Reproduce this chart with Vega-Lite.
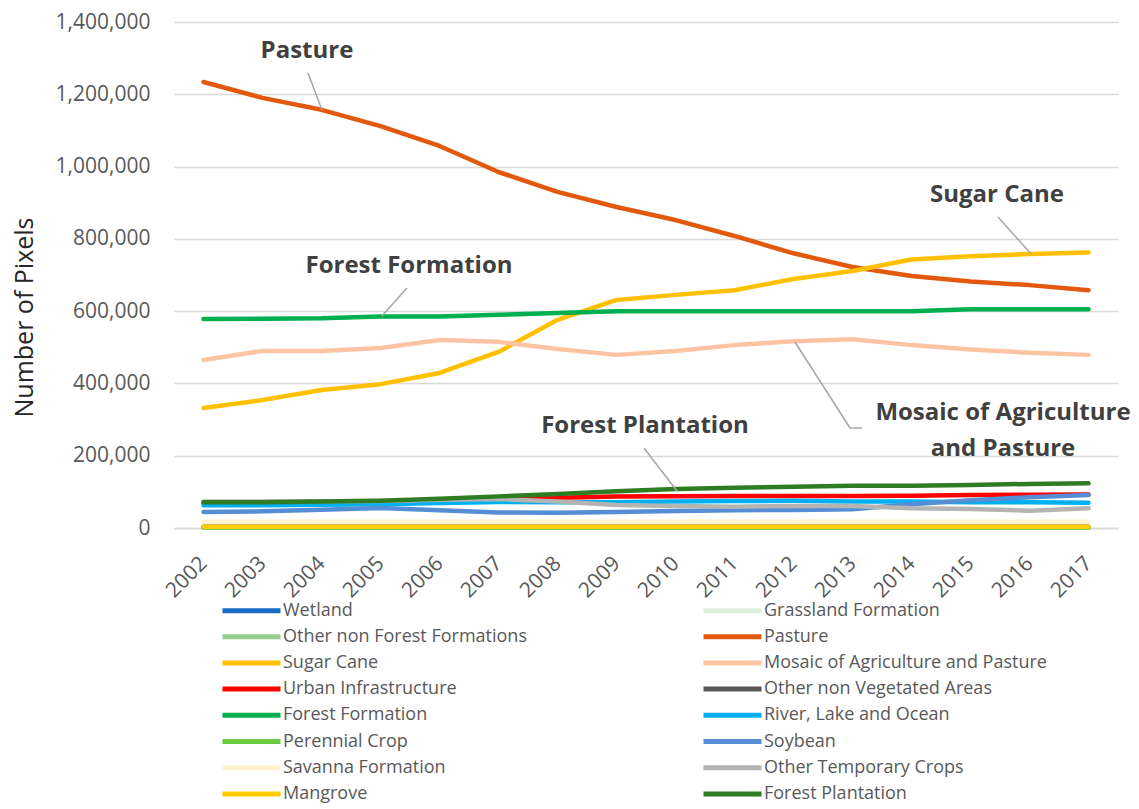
{
  "$schema": "https://vega.github.io/schema/vega-lite/v6.json",
  "width": 944,
  "height": 506,
  "autosize": {"type": "none"},
  "padding": {"left": 174, "top": 22, "right": 21, "bottom": 281},
  "background": "white",
  "config": {
    "font": "Open Sans",
    "view": {"stroke": null}
  },
  "datasets": {
    "series": [
      {"series":"Wetland","year":2002,"pixels":1500},{"series":"Wetland","year":2003,"pixels":1500},{"series":"Wetland","year":2004,"pixels":1500},{"series":"Wetland","year":2005,"pixels":1500},{"series":"Wetland","year":2006,"pixels":1500},{"series":"Wetland","year":2007,"pixels":1500},{"series":"Wetland","year":2008,"pixels":1500},{"series":"Wetland","year":2009,"pixels":1500},{"series":"Wetland","year":2010,"pixels":1500},{"series":"Wetland","year":2011,"pixels":1500},{"series":"Wetland","year":2012,"pixels":1500},{"series":"Wetland","year":2013,"pixels":1500},{"series":"Wetland","year":2014,"pixels":1500},{"series":"Wetland","year":2015,"pixels":1500},{"series":"Wetland","year":2016,"pixels":1500},{"series":"Wetland","year":2017,"pixels":1500},
      {"series":"Grassland Formation","year":2002,"pixels":2500},{"series":"Grassland Formation","year":2003,"pixels":2500},{"series":"Grassland Formation","year":2004,"pixels":2500},{"series":"Grassland Formation","year":2005,"pixels":2500},{"series":"Grassland Formation","year":2006,"pixels":2500},{"series":"Grassland Formation","year":2007,"pixels":2500},{"series":"Grassland Formation","year":2008,"pixels":2500},{"series":"Grassland Formation","year":2009,"pixels":2500},{"series":"Grassland Formation","year":2010,"pixels":2500},{"series":"Grassland Formation","year":2011,"pixels":2500},{"series":"Grassland Formation","year":2012,"pixels":2500},{"series":"Grassland Formation","year":2013,"pixels":2500},{"series":"Grassland Formation","year":2014,"pixels":2500},{"series":"Grassland Formation","year":2015,"pixels":2500},{"series":"Grassland Formation","year":2016,"pixels":2500},{"series":"Grassland Formation","year":2017,"pixels":2500},
      {"series":"Other non Forest Formations","year":2002,"pixels":1000},{"series":"Other non Forest Formations","year":2003,"pixels":1000},{"series":"Other non Forest Formations","year":2004,"pixels":1000},{"series":"Other non Forest Formations","year":2005,"pixels":1000},{"series":"Other non Forest Formations","year":2006,"pixels":1000},{"series":"Other non Forest Formations","year":2007,"pixels":1000},{"series":"Other non Forest Formations","year":2008,"pixels":1000},{"series":"Other non Forest Formations","year":2009,"pixels":1000},{"series":"Other non Forest Formations","year":2010,"pixels":1000},{"series":"Other non Forest Formations","year":2011,"pixels":1000},{"series":"Other non Forest Formations","year":2012,"pixels":1000},{"series":"Other non Forest Formations","year":2013,"pixels":1000},{"series":"Other non Forest Formations","year":2014,"pixels":1000},{"series":"Other non Forest Formations","year":2015,"pixels":1000},{"series":"Other non Forest Formations","year":2016,"pixels":1000},{"series":"Other non Forest Formations","year":2017,"pixels":1000},
      {"series":"Pasture","year":2002,"pixels":1234000},{"series":"Pasture","year":2003,"pixels":1190000},{"series":"Pasture","year":2004,"pixels":1157000},{"series":"Pasture","year":2005,"pixels":1112000},{"series":"Pasture","year":2006,"pixels":1057000},{"series":"Pasture","year":2007,"pixels":985000},{"series":"Pasture","year":2008,"pixels":930000},{"series":"Pasture","year":2009,"pixels":888000},{"series":"Pasture","year":2010,"pixels":852000},{"series":"Pasture","year":2011,"pixels":808000},{"series":"Pasture","year":2012,"pixels":760000},{"series":"Pasture","year":2013,"pixels":722000},{"series":"Pasture","year":2014,"pixels":697000},{"series":"Pasture","year":2015,"pixels":682000},{"series":"Pasture","year":2016,"pixels":672000},{"series":"Pasture","year":2017,"pixels":658000},
      {"series":"Sugar Cane","year":2002,"pixels":332000},{"series":"Sugar Cane","year":2003,"pixels":354000},{"series":"Sugar Cane","year":2004,"pixels":382000},{"series":"Sugar Cane","year":2005,"pixels":398000},{"series":"Sugar Cane","year":2006,"pixels":429000},{"series":"Sugar Cane","year":2007,"pixels":487000},{"series":"Sugar Cane","year":2008,"pixels":576000},{"series":"Sugar Cane","year":2009,"pixels":631000},{"series":"Sugar Cane","year":2010,"pixels":645000},{"series":"Sugar Cane","year":2011,"pixels":658000},{"series":"Sugar Cane","year":2012,"pixels":689000},{"series":"Sugar Cane","year":2013,"pixels":711000},{"series":"Sugar Cane","year":2014,"pixels":743000},{"series":"Sugar Cane","year":2015,"pixels":752000},{"series":"Sugar Cane","year":2016,"pixels":758000},{"series":"Sugar Cane","year":2017,"pixels":762000},
      {"series":"Mosaic of Agriculture and Pasture","year":2002,"pixels":465000},{"series":"Mosaic of Agriculture and Pasture","year":2003,"pixels":490000},{"series":"Mosaic of Agriculture and Pasture","year":2004,"pixels":490000},{"series":"Mosaic of Agriculture and Pasture","year":2005,"pixels":498000},{"series":"Mosaic of Agriculture and Pasture","year":2006,"pixels":520000},{"series":"Mosaic of Agriculture and Pasture","year":2007,"pixels":515000},{"series":"Mosaic of Agriculture and Pasture","year":2008,"pixels":495000},{"series":"Mosaic of Agriculture and Pasture","year":2009,"pixels":479000},{"series":"Mosaic of Agriculture and Pasture","year":2010,"pixels":490000},{"series":"Mosaic of Agriculture and Pasture","year":2011,"pixels":506000},{"series":"Mosaic of Agriculture and Pasture","year":2012,"pixels":517000},{"series":"Mosaic of Agriculture and Pasture","year":2013,"pixels":522000},{"series":"Mosaic of Agriculture and Pasture","year":2014,"pixels":506000},{"series":"Mosaic of Agriculture and Pasture","year":2015,"pixels":494000},{"series":"Mosaic of Agriculture and Pasture","year":2016,"pixels":485000},{"series":"Mosaic of Agriculture and Pasture","year":2017,"pixels":479000},
      {"series":"Urban Infrastructure","year":2002,"pixels":70000},{"series":"Urban Infrastructure","year":2003,"pixels":71000},{"series":"Urban Infrastructure","year":2004,"pixels":72000},{"series":"Urban Infrastructure","year":2005,"pixels":74000},{"series":"Urban Infrastructure","year":2006,"pixels":77000},{"series":"Urban Infrastructure","year":2007,"pixels":80000},{"series":"Urban Infrastructure","year":2008,"pixels":84000},{"series":"Urban Infrastructure","year":2009,"pixels":87000},{"series":"Urban Infrastructure","year":2010,"pixels":88000},{"series":"Urban Infrastructure","year":2011,"pixels":88500},{"series":"Urban Infrastructure","year":2012,"pixels":88500},{"series":"Urban Infrastructure","year":2013,"pixels":88500},{"series":"Urban Infrastructure","year":2014,"pixels":89000},{"series":"Urban Infrastructure","year":2015,"pixels":91000},{"series":"Urban Infrastructure","year":2016,"pixels":92000},{"series":"Urban Infrastructure","year":2017,"pixels":93000},
      {"series":"Other non Vegetated Areas","year":2002,"pixels":3500},{"series":"Other non Vegetated Areas","year":2003,"pixels":3500},{"series":"Other non Vegetated Areas","year":2004,"pixels":3500},{"series":"Other non Vegetated Areas","year":2005,"pixels":3500},{"series":"Other non Vegetated Areas","year":2006,"pixels":3500},{"series":"Other non Vegetated Areas","year":2007,"pixels":3500},{"series":"Other non Vegetated Areas","year":2008,"pixels":3500},{"series":"Other non Vegetated Areas","year":2009,"pixels":3500},{"series":"Other non Vegetated Areas","year":2010,"pixels":3500},{"series":"Other non Vegetated Areas","year":2011,"pixels":3500},{"series":"Other non Vegetated Areas","year":2012,"pixels":3500},{"series":"Other non Vegetated Areas","year":2013,"pixels":3500},{"series":"Other non Vegetated Areas","year":2014,"pixels":3500},{"series":"Other non Vegetated Areas","year":2015,"pixels":3500},{"series":"Other non Vegetated Areas","year":2016,"pixels":3500},{"series":"Other non Vegetated Areas","year":2017,"pixels":3500},
      {"series":"Forest Formation","year":2002,"pixels":578000},{"series":"Forest Formation","year":2003,"pixels":579000},{"series":"Forest Formation","year":2004,"pixels":580000},{"series":"Forest Formation","year":2005,"pixels":585000},{"series":"Forest Formation","year":2006,"pixels":585000},{"series":"Forest Formation","year":2007,"pixels":590000},{"series":"Forest Formation","year":2008,"pixels":595000},{"series":"Forest Formation","year":2009,"pixels":600000},{"series":"Forest Formation","year":2010,"pixels":600000},{"series":"Forest Formation","year":2011,"pixels":600000},{"series":"Forest Formation","year":2012,"pixels":600000},{"series":"Forest Formation","year":2013,"pixels":600000},{"series":"Forest Formation","year":2014,"pixels":600000},{"series":"Forest Formation","year":2015,"pixels":605000},{"series":"Forest Formation","year":2016,"pixels":605000},{"series":"Forest Formation","year":2017,"pixels":605000},
      {"series":"River, Lake and Ocean","year":2002,"pixels":63000},{"series":"River, Lake and Ocean","year":2003,"pixels":63000},{"series":"River, Lake and Ocean","year":2004,"pixels":64500},{"series":"River, Lake and Ocean","year":2005,"pixels":66000},{"series":"River, Lake and Ocean","year":2006,"pixels":69000},{"series":"River, Lake and Ocean","year":2007,"pixels":72000},{"series":"River, Lake and Ocean","year":2008,"pixels":71000},{"series":"River, Lake and Ocean","year":2009,"pixels":71000},{"series":"River, Lake and Ocean","year":2010,"pixels":73000},{"series":"River, Lake and Ocean","year":2011,"pixels":74500},{"series":"River, Lake and Ocean","year":2012,"pixels":75500},{"series":"River, Lake and Ocean","year":2013,"pixels":73000},{"series":"River, Lake and Ocean","year":2014,"pixels":73000},{"series":"River, Lake and Ocean","year":2015,"pixels":71000},{"series":"River, Lake and Ocean","year":2016,"pixels":71000},{"series":"River, Lake and Ocean","year":2017,"pixels":70000},
      {"series":"Perennial Crop","year":2002,"pixels":2000},{"series":"Perennial Crop","year":2003,"pixels":2000},{"series":"Perennial Crop","year":2004,"pixels":2000},{"series":"Perennial Crop","year":2005,"pixels":2000},{"series":"Perennial Crop","year":2006,"pixels":2000},{"series":"Perennial Crop","year":2007,"pixels":2000},{"series":"Perennial Crop","year":2008,"pixels":2000},{"series":"Perennial Crop","year":2009,"pixels":2000},{"series":"Perennial Crop","year":2010,"pixels":2000},{"series":"Perennial Crop","year":2011,"pixels":2000},{"series":"Perennial Crop","year":2012,"pixels":2000},{"series":"Perennial Crop","year":2013,"pixels":2000},{"series":"Perennial Crop","year":2014,"pixels":2000},{"series":"Perennial Crop","year":2015,"pixels":2000},{"series":"Perennial Crop","year":2016,"pixels":2000},{"series":"Perennial Crop","year":2017,"pixels":2000},
      {"series":"Soybean","year":2002,"pixels":44000},{"series":"Soybean","year":2003,"pixels":46000},{"series":"Soybean","year":2004,"pixels":50500},{"series":"Soybean","year":2005,"pixels":55000},{"series":"Soybean","year":2006,"pixels":49000},{"series":"Soybean","year":2007,"pixels":43000},{"series":"Soybean","year":2008,"pixels":42000},{"series":"Soybean","year":2009,"pixels":44000},{"series":"Soybean","year":2010,"pixels":47000},{"series":"Soybean","year":2011,"pixels":49000},{"series":"Soybean","year":2012,"pixels":50000},{"series":"Soybean","year":2013,"pixels":52000},{"series":"Soybean","year":2014,"pixels":66000},{"series":"Soybean","year":2015,"pixels":77000},{"series":"Soybean","year":2016,"pixels":85000},{"series":"Soybean","year":2017,"pixels":91000},
      {"series":"Savanna Formation","year":2002,"pixels":17000},{"series":"Savanna Formation","year":2003,"pixels":17000},{"series":"Savanna Formation","year":2004,"pixels":17000},{"series":"Savanna Formation","year":2005,"pixels":17000},{"series":"Savanna Formation","year":2006,"pixels":17000},{"series":"Savanna Formation","year":2007,"pixels":17000},{"series":"Savanna Formation","year":2008,"pixels":17000},{"series":"Savanna Formation","year":2009,"pixels":17000},{"series":"Savanna Formation","year":2010,"pixels":17000},{"series":"Savanna Formation","year":2011,"pixels":17000},{"series":"Savanna Formation","year":2012,"pixels":17000},{"series":"Savanna Formation","year":2013,"pixels":17000},{"series":"Savanna Formation","year":2014,"pixels":17000},{"series":"Savanna Formation","year":2015,"pixels":17000},{"series":"Savanna Formation","year":2016,"pixels":17000},{"series":"Savanna Formation","year":2017,"pixels":17000},
      {"series":"Other Temporary Crops","year":2002,"pixels":73000},{"series":"Other Temporary Crops","year":2003,"pixels":73000},{"series":"Other Temporary Crops","year":2004,"pixels":74000},{"series":"Other Temporary Crops","year":2005,"pixels":75000},{"series":"Other Temporary Crops","year":2006,"pixels":78000},{"series":"Other Temporary Crops","year":2007,"pixels":80000},{"series":"Other Temporary Crops","year":2008,"pixels":73000},{"series":"Other Temporary Crops","year":2009,"pixels":63500},{"series":"Other Temporary Crops","year":2010,"pixels":61000},{"series":"Other Temporary Crops","year":2011,"pixels":59000},{"series":"Other Temporary Crops","year":2012,"pixels":61000},{"series":"Other Temporary Crops","year":2013,"pixels":61000},{"series":"Other Temporary Crops","year":2014,"pixels":54500},{"series":"Other Temporary Crops","year":2015,"pixels":52500},{"series":"Other Temporary Crops","year":2016,"pixels":48000},{"series":"Other Temporary Crops","year":2017,"pixels":54500},
      {"series":"Mangrove","year":2002,"pixels":3600},{"series":"Mangrove","year":2003,"pixels":3600},{"series":"Mangrove","year":2004,"pixels":3600},{"series":"Mangrove","year":2005,"pixels":3600},{"series":"Mangrove","year":2006,"pixels":3600},{"series":"Mangrove","year":2007,"pixels":3600},{"series":"Mangrove","year":2008,"pixels":3600},{"series":"Mangrove","year":2009,"pixels":3600},{"series":"Mangrove","year":2010,"pixels":3600},{"series":"Mangrove","year":2011,"pixels":3600},{"series":"Mangrove","year":2012,"pixels":3600},{"series":"Mangrove","year":2013,"pixels":3600},{"series":"Mangrove","year":2014,"pixels":3600},{"series":"Mangrove","year":2015,"pixels":3600},{"series":"Mangrove","year":2016,"pixels":3600},{"series":"Mangrove","year":2017,"pixels":3600},
      {"series":"Forest Plantation","year":2002,"pixels":71000},{"series":"Forest Plantation","year":2003,"pixels":71000},{"series":"Forest Plantation","year":2004,"pixels":73000},{"series":"Forest Plantation","year":2005,"pixels":75500},{"series":"Forest Plantation","year":2006,"pixels":81000},{"series":"Forest Plantation","year":2007,"pixels":87500},{"series":"Forest Plantation","year":2008,"pixels":94000},{"series":"Forest Plantation","year":2009,"pixels":102000},{"series":"Forest Plantation","year":2010,"pixels":108000},{"series":"Forest Plantation","year":2011,"pixels":111500},{"series":"Forest Plantation","year":2012,"pixels":114000},{"series":"Forest Plantation","year":2013,"pixels":117000},{"series":"Forest Plantation","year":2014,"pixels":117000},{"series":"Forest Plantation","year":2015,"pixels":119000},{"series":"Forest Plantation","year":2016,"pixels":122000},{"series":"Forest Plantation","year":2017,"pixels":123500}
    ],
    "leaders": [
      {"year":2003.771,"pixels":1258900,"year2":2004.008,"pixels2":1156500},
      {"year":2005.449,"pixels":664000,"year2":2005.025,"pixels2":586600},
      {"year":2009.466,"pixels":221300,"year2":2010.025,"pixels2":102400},
      {"year":2015.466,"pixels":860500,"year2":2016.025,"pixels2":758100},
      {"year":2013.161,"pixels":276700,"year2":2012.958,"pixels2":276700},
      {"year":2012.958,"pixels":276700,"year2":2012.025,"pixels2":514600}
    ],
    "labels": [
      {"label":"Pasture","year":2003.754,"pixels":1319800},
      {"label":"Forest Formation","year":2005.483,"pixels":724900},
      {"label":"Forest Plantation","year":2009.483,"pixels":282200},
      {"label":"Sugar Cane","year":2015.449,"pixels":921300},
      {"label":"Mosaic of Agriculture","year":2015.551,"pixels":318200},
      {"label":"and Pasture","year":2015.551,"pixels":218600}
    ]
  },
  "layer": [
    {
      "data": {"name": "series"},
      "mark": {"type": "line", "strokeWidth": 4.5, "strokeCap": "round", "strokeJoin": "round"},
      "encoding": {
        "x": {
          "field": "year", "type": "quantitative",
          "scale": {"domain": [2001.5, 2017.5], "nice": false, "zero": false},
          "axis": {
            "values": [2002,2003,2004,2005,2006,2007,2008,2009,2010,2011,2012,2013,2014,2015,2016,2017],
            "format": "d", "title": null, "grid": false, "ticks": false,
            "domain": true, "domainColor": "#d9d9d9", "domainWidth": 1.5,
            "labelAngle": -45, "labelAlign": "right", "labelBaseline": "middle",
            "labelPadding": 32, "labelFontSize": 21, "labelColor": "#595959",
            "labelFont": "Open Sans"
          }
        },
        "y": {
          "field": "pixels", "type": "quantitative",
          "scale": {"domain": [0, 1400000], "nice": false},
          "axis": {
            "values": [0,200000,400000,600000,800000,1000000,1200000,1400000],
            "format": ",d", "title": "Number of Pixels",
            "grid": true, "gridColor": "#d9d9d9", "gridWidth": 1.5,
            "domain": false, "ticks": false,
            "labelPadding": 24, "labelFontSize": 21, "labelColor": "#595959", "labelFont": "Open Sans",
            "titleFont": "Open Sans", "titleFontSize": 25, "titleFontWeight": "normal", "titleColor": "#262626",
            "titleX": -150, "titleY": 295, "titleAngle": -90, "titleAlign": "center", "titleBaseline": "middle"
          }
        },
        "color": {
          "field": "series", "type": "nominal",
          "scale": {
            "domain": ["Wetland","Grassland Formation","Other non Forest Formations","Pasture","Sugar Cane","Mosaic of Agriculture and Pasture","Urban Infrastructure","Other non Vegetated Areas","Forest Formation","River, Lake and Ocean","Perennial Crop","Soybean","Savanna Formation","Other Temporary Crops","Mangrove","Forest Plantation"],
            "range": ["#1a6bc4","#dcedd9","#94cf92","#e2590d","#ffc000","#fcc4a3","#ff0000","#595959","#00b050","#00b0f0","#6ccb40","#558ed5","#fff2cc","#b4b4b4","#ffcc00","#2e7d22"]
          },
          "legend": {
            "title": null, "orient": "none", "legendX": 48, "legendY": 576,
            "direction": "horizontal", "columns": 2, "columnPadding": 166, "rowPadding": 3.2,
            "symbolType": "M-3,0H3", "symbolSize": 374, "symbolStrokeWidth": 5, "symbolOffset": 17,
            "labelOffset": 19, "labelFontSize": 18, "labelColor": "#595959", "labelFont": "Open Sans",
            "labelLimit": 400, "padding": 0
          }
        }
      }
    },
    {
      "data": {"name": "leaders"},
      "mark": {"type": "rule", "color": "#a6a6a6", "strokeWidth": 1.5},
      "encoding": {
        "x": {"field": "year", "type": "quantitative"},
        "y": {"field": "pixels", "type": "quantitative"},
        "x2": {"field": "year2"},
        "y2": {"field": "pixels2"}
      }
    },
    {
      "data": {"name": "labels"},
      "mark": {"type": "text", "font": "Open Sans", "fontWeight": "bold", "fontSize": 24, "color": "#404040", "align": "center", "baseline": "middle"},
      "encoding": {
        "x": {"field": "year", "type": "quantitative"},
        "y": {"field": "pixels", "type": "quantitative"},
        "text": {"field": "label"}
      }
    }
  ]
}
